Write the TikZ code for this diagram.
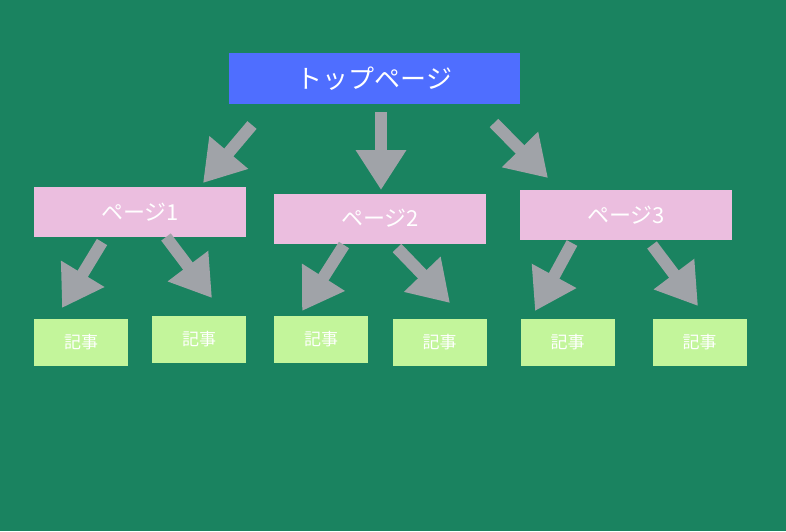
\documentclass[tikz,border=0pt]{standalone}
\usepackage{fontspec}
\newfontfamily\cjk{Noto Sans CJK JP}
\usetikzlibrary{arrows.meta}
\definecolor{bggreen}{HTML}{1A8360}
\definecolor{topblue}{HTML}{4F6EFF}
\definecolor{pagepink}{HTML}{EBBEDF}
\definecolor{artgreen}{HTML}{C3F59B}
\definecolor{arrowgray}{HTML}{A0A3A8}
\tikzset{
  box/.style={inner sep=0pt,text=white,font=\cjk},
  toppage/.style={box,fill=topblue,minimum width=291pt,minimum height=51pt,font=\cjk\fontsize{26}{30}\selectfont},
  page/.style={box,fill=pagepink,minimum width=212pt,minimum height=50pt,font=\cjk\fontsize{22}{26}\selectfont},
  article/.style={box,fill=artgreen,minimum width=94pt,minimum height=47pt,font=\cjk\fontsize{17}{20}\selectfont},
  bigarrow/.style={draw=arrowgray,line width=12pt,-{Triangle[width=48pt,length=40pt,fill=arrowgray]}}
}
\begin{document}
\begin{tikzpicture}[x=1pt,y=-1pt]

    % Background
    \fill[bggreen] (0,0) rectangle (786,531);
    \useasboundingbox (0,0) rectangle (786,531);

    % Top page
    \node[toppage] (top) at (374.5,78.5) {トップページ};

    % Pages
    \node[page] (p1) at (140,212) {ページ1};
    \node[page] (p2) at (380,218.5) {ページ2};
    \node[page] (p3) at (626,215) {ページ3};

    % Articles
    \node[article] (a1) at (81,342.5) {記事};
    \node[article] (a2) at (199,339.5) {記事};
    \node[article] (a3) at (321,339.5) {記事};
    \node[article] (a4) at (439.5,342.5) {記事};
    \node[article] (a5) at (567.5,342.5) {記事};
    \node[article] (a6) at (699.5,342.5) {記事};

    % Arrows
    \coordinate (t1s) at (252,125); \coordinate (t1e) at (203,183);
    \coordinate (t2s) at (381,112); \coordinate (t2e) at (381,190);
    \coordinate (t3s) at (494,123); \coordinate (t3e) at (548,178);
    \draw[bigarrow] (t1s) -- (t1e);
    \draw[bigarrow] (t2s) -- (t2e);
    \draw[bigarrow] (t3s) -- (t3e);

    \coordinate (p1ls) at (102,242); \coordinate (p1le) at (62,308);
    \coordinate (p1rs) at (166,237); \coordinate (p1re) at (212,298);
    \coordinate (p2ls) at (344,245); \coordinate (p2le) at (302,311);
    \coordinate (p2rs) at (397,248); \coordinate (p2re) at (450,303);
    \coordinate (p3ls) at (572,243); \coordinate (p3le) at (535,311);
    \coordinate (p3rs) at (652,245); \coordinate (p3re) at (698,306);
    \draw[bigarrow] (p1ls) -- (p1le);
    \draw[bigarrow] (p1rs) -- (p1re);
    \draw[bigarrow] (p2ls) -- (p2le);
    \draw[bigarrow] (p2rs) -- (p2re);
    \draw[bigarrow] (p3ls) -- (p3le);
    \draw[bigarrow] (p3rs) -- (p3re);

\end{tikzpicture}
\end{document}
